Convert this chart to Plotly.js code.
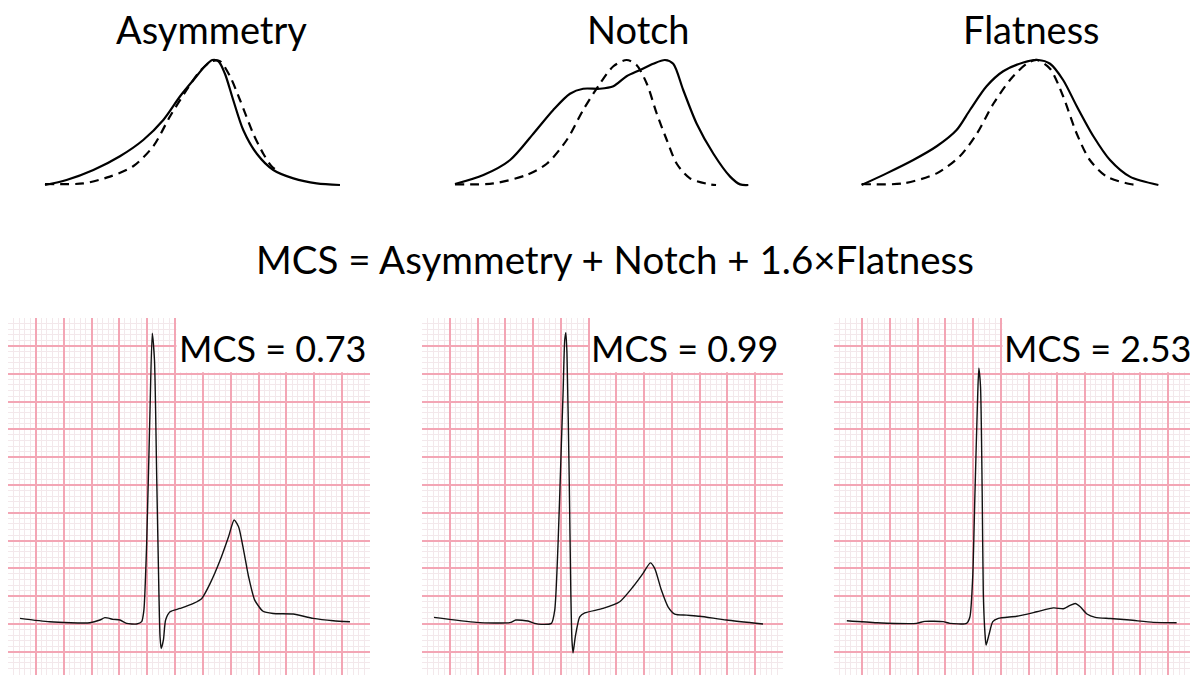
<!DOCTYPE html>
<html><head><meta charset="utf-8">
<script src="https://cdn.plot.ly/plotly-3.0.1.min.js"></script>
<style>html,body{margin:0;padding:0;background:#fff;overflow:hidden}#chart{width:1190px;height:675px}</style>
</head><body><div id="chart"></div>
<script>
// ---- text ----
const titles = ["Asymmetry", "Notch", "Flatness"];
const formula = "MCS = Asymmetry + Notch + 1.6×Flatness";
const mcsLabels = ["MCS = 0.73", "MCS = 0.99", "MCS = 2.53"];

// ---- top row: template (dashed) vs observed (solid) T-wave shapes, normalised time / amplitude ----
const asymSolidT = [0,7.3,16.4,25.4,33.3,40.1,45.8,50.3,54.2,56.7,58.8,61.0,63.8,67.2,71.8,77.4,84.2,92.1,100];
const asymSolidA = [0,0.04,0.12,0.23,0.36,0.52,0.71,0.84,0.95,1.0,0.99,0.89,0.68,0.44,0.25,0.12,0.053,0.013,0];
const asymDashT  = [0,13,22,29.9,36.7,42.4,48,52.5,56.5,59.3,62.7,66.1,70.6,74,76.8,79];
const asymDashA  = [0.008,0.013,0.067,0.15,0.31,0.55,0.76,0.91,0.99,0.99,0.87,0.68,0.41,0.25,0.15,0.11];

const notchSolidT = [0,9.7,18.8,26.7,33.5,39.2,43.7,49.4,54,58.5,63.1,67.6,71.6,74.4,77.8,82.4,88.1,93.8,97.2,100];
const notchSolidA = [0.008,0.08,0.2,0.41,0.6,0.73,0.77,0.77,0.79,0.87,0.92,0.97,1.0,0.97,0.76,0.49,0.25,0.067,0.005,0];
const notchDashT  = [0,13.1,24.4,31.3,38.1,43.7,49.4,54,58.5,61.9,65.4,68.8,72.2,75.6,80.1,86.9,89];
const notchDashA  = [0.005,0.013,0.08,0.17,0.36,0.6,0.81,0.95,1.0,0.96,0.81,0.57,0.36,0.17,0.053,0.005,0];

const flatSolidT = [0,8.4,17.4,25.3,32,36.5,42.1,47.7,54.5,59.5,63.5,67.9,72.5,78.1,83.7,90.4,100];
const flatSolidA = [0,0.093,0.2,0.31,0.44,0.6,0.79,0.91,0.98,1.0,0.97,0.84,0.63,0.39,0.2,0.067,0];
const flatDashT  = [0,14,25.3,33.1,38.8,44.4,50,55.6,59,63.5,67.9,72.5,76.9,82.6,90.4,93.4];
const flatDashA  = [0.008,0.013,0.093,0.23,0.41,0.65,0.84,0.97,1.0,0.93,0.71,0.41,0.2,0.067,0.008,0];

// ---- bottom row: ECG beats, time in mm (small squares), voltage in mm ----
const ecg1T = [2.15,7.5,14.7,16.5,17.4,18.9,20.1,21.3,23.1,24.0,24.4,24.9,25.5,25.9,26.3,26.7,27.1,27.3,27.5,27.9,28.3,29.1,30.9,33.3,34.8,36.3,38.1,39.6,40.6,41.4,42.3,43.2,44.3,45.8,47.6,51.2,54.8,58.4,61.4];
const ecg1V = [1.02,0.4,0.23,0.72,1.14,0.84,0.72,0.12,0,0.42,2.5,14.5,38.5,52.3,47.5,26.5,5.5,-2.3,-4.4,-2.9,0.72,2.2,2.8,3.7,4.6,7.3,11.5,15.7,18.7,17.5,13.3,8.5,4.3,2.3,1.9,1.8,1.02,0.6,0.42];

const ecg2T = [2.16,9.8,15.8,16.9,19.1,20.3,21.5,23.3,23.9,24.5,25.1,25.4,25.7,25.9,26.1,26.5,26.8,27.0,27.2,27.6,28.4,29.3,32.6,35.6,38.0,39.8,41.1,41.9,43.1,44.3,45.5,47.6,50.0,54.8,61.4];
const ecg2V = [1.2,0.3,0.24,0.72,0.54,0.12,-0.06,0.12,2.5,14.5,32.5,41.5,51.1,52.4,48.7,26.5,5.5,-2.9,-5.2,-2.3,1.3,2.0,2.8,4.0,6.7,9.1,11.0,10.0,6.1,3.1,1.8,1.6,1.4,0.72,0];

const ecg3T = [2.3,7.7,14.8,16.3,19.6,20.8,23.8,24.4,24.9,25.3,25.8,26.0,26.3,26.6,26.8,27.1,27.3,27.8,28.5,29.5,32.8,36.4,39.4,41.2,42.3,43.3,44.2,45.4,46.9,49.6,53.1,57.3,61.5];
const ecg3V = [0.6,0.24,0.12,0.48,0.42,0.12,0.12,1.3,8.5,23.5,41.5,46.0,42.7,23.5,5.5,-1.7,-3.8,-2.0,0.42,1.0,1.4,2.2,2.9,2.75,3.3,3.7,3.1,1.8,1.2,1.0,0.72,0.3,0.24];

// ---- build ----
const FONT = "Lato, 'Open Sans', sans-serif";
const solid = {color: "#000", width: 2.2, shape: "spline", smoothing: 0.8};
const dashed = {color: "#000", width: 2.2, dash: "9px,6px", shape: "spline", smoothing: 0.8};
const ecgLine = {color: "#111", width: 1.4, shape: "spline", smoothing: 0.6};

const topSets = [
  [asymSolidT, asymSolidA, asymDashT, asymDashA],
  [notchSolidT, notchSolidA, notchDashT, notchDashA],
  [flatSolidT, flatSolidA, flatDashT, flatDashA]
];
const ecgSets = [[ecg1T, ecg1V], [ecg2T, ecg2V], [ecg3T, ecg3V]];

const traces = [];
topSets.forEach((s, i) => {
  const xa = i === 0 ? "x" : "x" + (i + 1), ya = i === 0 ? "y" : "y" + (i + 1);
  traces.push({x: s[2], y: s[3], mode: "lines", line: dashed, xaxis: xa, yaxis: ya, hoverinfo: "skip"});
  traces.push({x: s[0], y: s[1], mode: "lines", line: solid, xaxis: xa, yaxis: ya, hoverinfo: "skip"});
});
ecgSets.forEach((s, i) => {
  traces.push({x: s[0], y: s[1], mode: "lines", line: ecgLine, xaxis: "x" + (i + 4), yaxis: "y" + (i + 4), hoverinfo: "skip"});
});

const W = 1190, H = 675;
const topX = [[39.1, 345.9], [449.1, 754.2], [855.7, 1164.3]];
const topY = [1 - 191.25 / H, 1 - 53.75 / H];
const botX = [[8, 370], [422, 783], [834, 1190]];
const botXR = [[0, 65], [0, 65], [0, 63.9]];
const botY = [0, 1 - 318 / H];
const botYR = [-9.17, 55.04];

const layout = {
  width: W, height: H,
  margin: {l: 0, r: 0, t: 0, b: 0},
  paper_bgcolor: "#fff", plot_bgcolor: "rgba(0,0,0,0)",
  showlegend: false,
  font: {family: FONT, color: "#000"},
  annotations: [], shapes: []
};
const hidden = {visible: false, fixedrange: true};
for (let i = 0; i < 3; i++) {
  const n = i === 0 ? "" : String(i + 1);
  layout["xaxis" + n] = Object.assign({}, hidden, {domain: [topX[i][0] / W, topX[i][1] / W], range: [-2, 102], anchor: "y" + n});
  layout["yaxis" + n] = Object.assign({}, hidden, {domain: topY, range: [-0.05, 1.05], anchor: "x" + n});
}
const gridAxis = (dom, rng, anchor) => ({
  domain: dom, range: rng, anchor: anchor, fixedrange: true,
  showticklabels: false, ticks: "", zeroline: false, showline: false,
  showgrid: true, tick0: 0, dtick: 5, gridcolor: "#f3a6b5", gridwidth: 2,
  minor: {tick0: 0, dtick: 1, showgrid: true, gridcolor: "#f3e8eb", gridwidth: 1, ticks: ""}
});
for (let i = 0; i < 3; i++) {
  const n = String(i + 4);
  layout["xaxis" + n] = gridAxis([botX[i][0] / W, botX[i][1] / W], botXR[i], "y" + n);
  layout["yaxis" + n] = gridAxis(botY, botYR, "x" + n);
  layout.shapes.push({type: "rect", xref: "x" + n, yref: "y" + n, x0: 30.25, x1: 70, y0: 45.3, y1: 60,
    fillcolor: "#fff", line: {width: 0}, layer: "above"});
}

const titleX = [211, 638, 1031];
titles.forEach((t, i) => layout.annotations.push({
  text: t, xref: "paper", yref: "paper", x: titleX[i] / W, y: 1 - 28.5 / H,
  xanchor: "center", yanchor: "middle", showarrow: false, font: {size: 38, family: FONT, color: "#000"}
}));
layout.annotations.push({
  text: formula, xref: "paper", yref: "paper", x: 615 / W, y: 1 - 258.5 / H,
  xanchor: "center", yanchor: "middle", showarrow: false, font: {size: 38.5, family: FONT, color: "#000"}
});
const mcsX = [272, 684, 1097.5];
mcsLabels.forEach((t, i) => layout.annotations.push({
  text: t, xref: "paper", yref: "paper", x: mcsX[i] / W, y: 1 - 347.5 / H,
  xanchor: "center", yanchor: "middle", showarrow: false, font: {size: 36, family: FONT, color: "#000"}
}));

Plotly.newPlot("chart", traces, layout, {staticPlot: true, displayModeBar: false});
</script>
</body></html>
